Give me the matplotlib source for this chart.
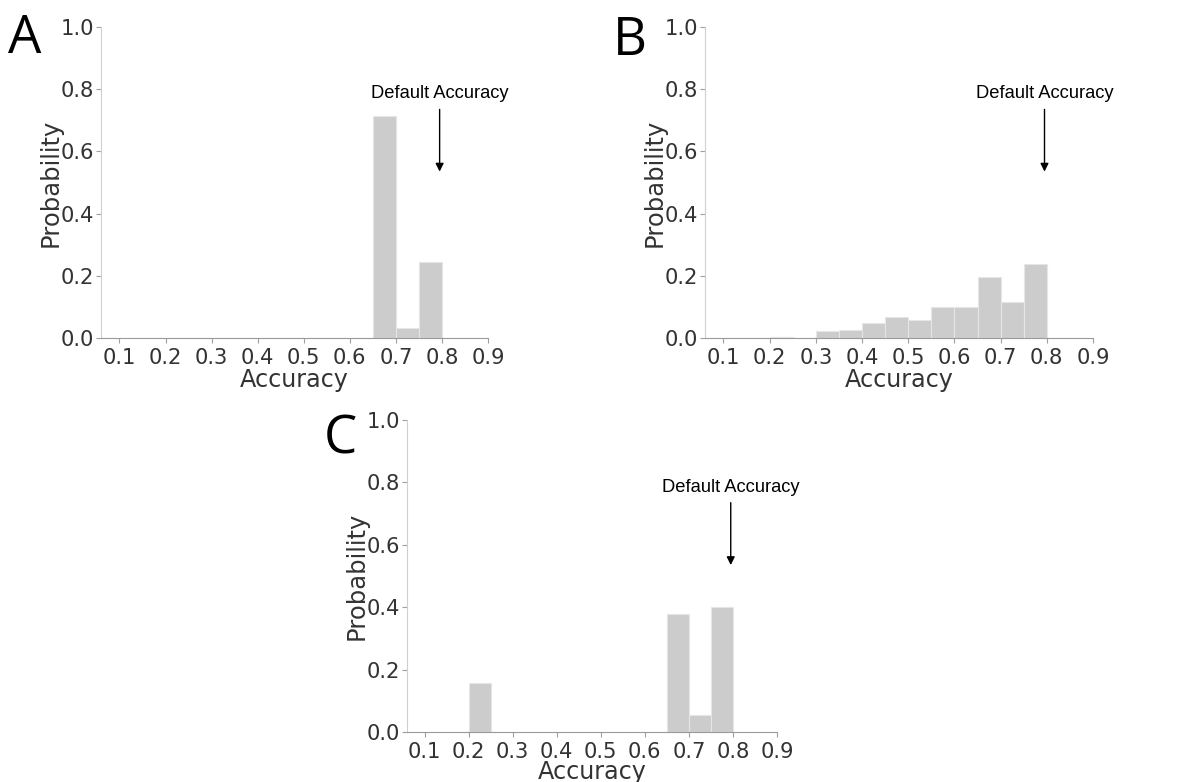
import matplotlib
matplotlib.use("Agg")
import matplotlib.pyplot as plt
import numpy as np

W, H = 1179, 782
bin_edges = [0.20, 0.25, 0.30, 0.35, 0.40, 0.45, 0.50, 0.55, 0.60, 0.65, 0.70, 0.75, 0.80]
prob_a = [0.0, 0.0, 0.0, 0.0, 0.0, 0.0, 0.0, 0.0, 0.0, 0.715, 0.033, 0.245]
prob_b = [0.003, 0.0, 0.022, 0.025, 0.047, 0.066, 0.057, 0.101, 0.101, 0.195, 0.117, 0.238]
prob_c = [0.157, 0.0, 0.0, 0.0, 0.0, 0.0, 0.0, 0.0, 0.0, 0.378, 0.053, 0.402]
xticks = [0.1, 0.2, 0.3, 0.4, 0.5, 0.6, 0.7, 0.8, 0.9]
yticks = [0.0, 0.2, 0.4, 0.6, 0.8, 1.0]
default_acc = 0.795
letters = ["A", "B", "C"]

fig = plt.figure(figsize=(W / 100, H / 100), dpi=100)

def px_axes(l, r, t, b):
    return fig.add_axes([l / W, 1 - b / H, (r - l) / W, (b - t) / H])

panels = [
    (prob_a, (101, 488, 27, 338), (8, 53), 41.5),
    (prob_b, (705, 1093, 27, 338), (613, 55), 41.5),
    (prob_c, (407, 777, 420, 732), (324, 453), 40.5),
]

edges = np.array(bin_edges)
for (vals, box, lpos, xl_off), letter in zip(panels, letters):
    ax = px_axes(*box)
    l, r, t, b = box
    ax.bar(edges[:-1], vals, width=np.diff(edges), align="edge",
           color="#cccccc", edgecolor="#e6e6e6", linewidth=0.8)
    ax.set_xlim(0.06, 0.9)
    ax.set_ylim(0, 1.0)
    ax.set_xticks(xticks)
    ax.set_xticklabels([f"{v:.1f}" for v in xticks])
    ax.set_yticks(yticks)
    ax.set_yticklabels([f"{v:.1f}" for v in yticks])
    for s in ["top", "right"]:
        ax.spines[s].set_visible(False)
    ax.spines["left"].set_color("#d0d0d0")
    ax.spines["bottom"].set_color("#9a9a9a")
    ax.tick_params(axis="both", colors="#a0a0a0", labelcolor="#333333",
                   labelsize=15.2, length=3.5, width=0.8)
    ax.tick_params(axis="x", pad=3.5)
    ax.tick_params(axis="y", pad=1.5)
    ax.set_xlabel("Accuracy", fontsize=17.2, color="#333333", va="center")
    ax.set_ylabel("Probability", fontsize=17.5, color="#333333", va="center")
    ax.xaxis.set_label_coords(0.5, -xl_off / (b - t))
    ax.yaxis.set_label_coords(-50.0 / (r - l), 0.5)
    ax.annotate("", xy=(default_acc, 0.535), xytext=(default_acc, 0.735),
                arrowprops=dict(arrowstyle="-|>", color="black", lw=1.0,
                                mutation_scale=12, shrinkA=0, shrinkB=0))
    ax.text(default_acc, 0.785, "Default Accuracy", ha="center", va="center",
            fontsize=13.2, family="Liberation Sans", color="black")
    fig.text(lpos[0] / W, 1 - lpos[1] / H, letter, fontsize=38,
             family="Open Sans", ha="left", va="baseline", color="black")

fig.savefig("out.png", dpi=100, facecolor="white")
